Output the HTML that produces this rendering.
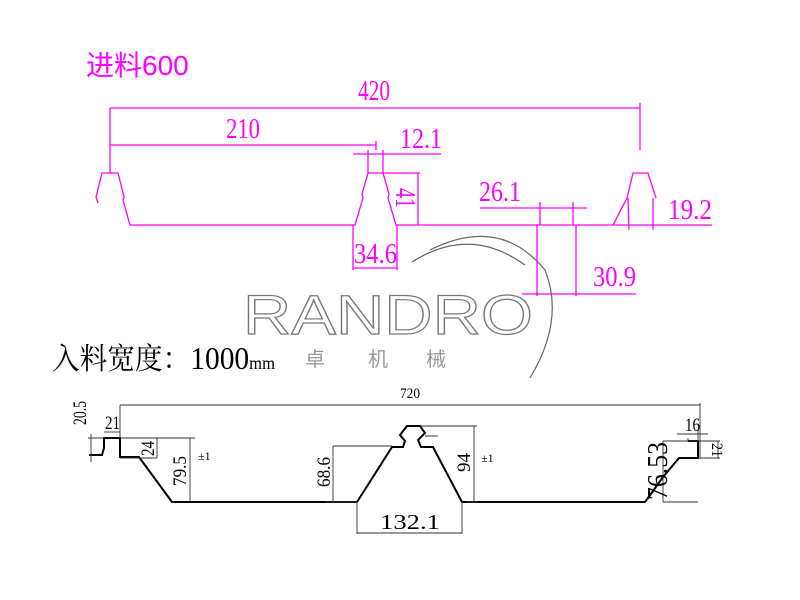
<!DOCTYPE html>
<html><head><meta charset="utf-8"><style>body{margin:0;background:#fff}svg{display:block}</style></head><body>
<svg width="800" height="600" viewBox="0 0 800 600" xmlns="http://www.w3.org/2000/svg">
<rect width="800" height="600" fill="#fff"/>
<g fill="none" stroke="#666" stroke-width="1.2">
<path d="M412 262 Q470 225 525 265"/>
<path d="M430 250 Q500 215 545 270 Q565 320 530 378"/>
</g>
<text x="243" y="334" font-family="Liberation Sans, sans-serif" font-size="56" fill="#fff" stroke="#777" stroke-width="1.2" textLength="290" lengthAdjust="spacingAndGlyphs">RANDRO</text>
<g font-family="Liberation Sans, 'Noto Sans CJK SC', sans-serif" font-size="20" fill="#999">
<text x="305" y="366">卓</text><text x="368" y="366">机</text><text x="426" y="366">械</text>
</g>
<g stroke="#f0f" stroke-width="1.3" fill="none">
<path d="M98 203 L96 197 L102 173 L118 173 L124 197 L123 200 L130 225 L355 225 L363 198 L362 194 L368 173 L383 173 L389 194 L388 198 L396 225 L613 225 L627 198 L633 173 L648 173 L656 198"/>
<path d="M613 225 L712 225"/>
<path d="M628 198 L629 230 M653 198 L653 230"/>
<path d="M110 108 L640 108 M110 108 L110 173 M640 103 L640 150"/>
<path d="M110 145 L376 145 M376 141 L376 150"/>
<path d="M353 154 L441 154 M368 150 L368 173 M383 150 L383 173"/>
<path d="M383 173 L420 173 M418 173 L418 225"/>
<path d="M353 225 L353 270 M397 225 L397 270 M353 268 L397 268"/>
<path d="M480 208 L587 208 M540 202 L540 225 M573 202 L573 225"/>
<path d="M537 225 L537 296 M576 225 L576 296 M522 294 L636 294"/>
</g>
<g font-family="Liberation Serif, serif" fill="#f0f" font-size="28">
<text x="358" y="100" textLength="32" lengthAdjust="spacingAndGlyphs">420</text>
<text x="226" y="138" textLength="34" lengthAdjust="spacingAndGlyphs">210</text>
<text x="400" y="148" textLength="42" lengthAdjust="spacingAndGlyphs">12.1</text>
<text x="354" y="263" textLength="43" lengthAdjust="spacingAndGlyphs">34.6</text>
<text x="479" y="201" textLength="42" lengthAdjust="spacingAndGlyphs">26.1</text>
<text x="593" y="286" textLength="43" lengthAdjust="spacingAndGlyphs">30.9</text>
<text x="668" y="219" textLength="44" lengthAdjust="spacingAndGlyphs">19.2</text>
<text transform="translate(396,188) rotate(90)" textLength="20" lengthAdjust="spacingAndGlyphs">41</text>
</g>
<text x="86" y="75" font-family="Liberation Sans, 'Noto Sans CJK SC', sans-serif" font-size="28" fill="#f0f">进料600</text>
<text x="52" y="369" font-family="Liberation Serif, 'Noto Serif CJK SC', serif" font-size="30" fill="#000" textLength="223" lengthAdjust="spacingAndGlyphs">入料宽度：<tspan font-size="32">1000</tspan><tspan font-size="18">mm</tspan></text>
<g stroke="#000" stroke-width="2" fill="none">
<path d="M89 455 L102 455 L104 448 L104 438 L120 438 L120 457 L139 457 L172 502 L357 502 L392 447 L403 447 L405 441 L400 435 L407 426 L420 426 L425 433 L418 440 L421 447 L433 447 L462 502 L645 502 L648 498 L663 477 L679 458 L698 458 L698 441 L688 441"/>
</g>
<g stroke="#333" stroke-width="0.9" fill="none">
<path d="M120 405 L700 405 M120 405 L120 438 M700 403 L700 458"/>
<path d="M91 434 L91 462 M88 438 L104 438"/>
<path d="M104 432 L120 432"/>
<path d="M120 458 L157 458 M157 438 L157 458"/>
<path d="M120 438 L195 438 M190 438 L190 502"/>
<path d="M333 446 L392 446 M333 446 L333 502 M325 502 L357 502"/>
<path d="M420 426 L477 426 M474 426 L474 502 M466 502 L478 502 M425 436 L438 436"/>
<path d="M357 502 L357 534 M462 502 L462 534 M357 533 L462 533"/>
<path d="M677 434 L708 434 M688 438 L688 441 M698 430 L698 441"/>
<path d="M663 441 L720 441 M718 441 L718 458 M698 458 L720 458"/>
<path d="M663 441 L663 502 M663 502 L698 502"/>
</g>
<g font-family="Liberation Serif, serif" fill="#000">
<text x="400" y="398" font-size="15" textLength="20" lengthAdjust="spacingAndGlyphs">720</text>
<text x="105" y="429" font-size="19" textLength="15" lengthAdjust="spacingAndGlyphs">21</text>
<text x="685" y="431" font-size="19" textLength="15" lengthAdjust="spacingAndGlyphs">16</text>
<text x="380" y="529" font-size="21" textLength="60" lengthAdjust="spacingAndGlyphs">132.1</text>
<text x="198" y="460" font-size="12">±1</text>
<text x="481" y="462" font-size="12">±1</text>
<text transform="translate(86,425) rotate(-90)" font-size="19" textLength="24" lengthAdjust="spacingAndGlyphs">20.5</text>
<text transform="translate(154,456) rotate(-90)" font-size="19" textLength="15" lengthAdjust="spacingAndGlyphs">24</text>
<text transform="translate(186,486) rotate(-90)" font-size="19" textLength="30" lengthAdjust="spacingAndGlyphs">79.5</text>
<text transform="translate(330,487) rotate(-90)" font-size="19" textLength="30" lengthAdjust="spacingAndGlyphs">68.6</text>
<text transform="translate(470,472) rotate(-90)" font-size="19" textLength="19" lengthAdjust="spacingAndGlyphs">94</text>
<text transform="translate(712,443) rotate(90)" font-size="16" textLength="14" lengthAdjust="spacingAndGlyphs">21</text>
<text transform="translate(667,500) rotate(-90)" font-size="28" textLength="58" lengthAdjust="spacingAndGlyphs">76.53</text>
</g>
</svg>
</body></html>
